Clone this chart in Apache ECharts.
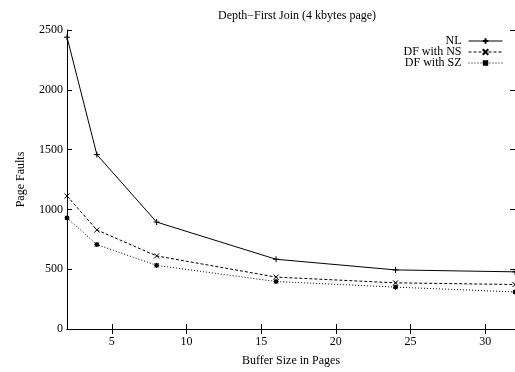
<!DOCTYPE html>
<html><head><meta charset="utf-8">
<script src="https://cdn.jsdelivr.net/npm/echarts@6/dist/echarts.min.js"></script>
<style>html,body{margin:0;padding:0;background:#fff}#c{width:515px;height:372px}</style>
</head><body><div id="c"></div>
<script>
const bufferSizes = [2, 4, 8, 16, 24, 32];
const nlValues = [2440, 1458, 894, 583, 494, 478];
const dfNsValues = [1112, 828, 611, 434, 386, 372];
const dfSzValues = [929, 706, 532, 397, 350, 310];
const seriesNames = ['NL', 'DF with NS', 'DF with SZ'];
const xTicks = [5, 10, 15, 20, 25, 30];
const yTicks = [0, 500, 1000, 1500, 2000, 2500];

const font = 'Liberation Serif';
const plus = 'path://M0,5L10,5M5,0L5,10';
const cross = 'path://M0,0L10,10M0,10L10,0';
const star = 'path://M0,5L10,5M5,0L5,10M1,1L9,9M1,9L9,1M2,2L8,2L8,8L2,8Z';

function pairs(vals){ return bufferSizes.map((x,i)=>[x, vals[i]]); }

const chart = echarts.init(document.getElementById('c'), null, {renderer:'canvas'});
const axisCommon = {
  axisLine:{lineStyle:{color:'#000', width:1}},
  splitLine:{show:false},
};
chart.setOption({
  animation:false,
  backgroundColor:'#fff',
  title:{text:'Depth\u2212First Join (4 kbytes page)', left:292, top:5, textAlign:'center',
    textStyle:{fontFamily:font, fontSize:12, fontWeight:'normal', color:'#000'}},
  legend:{orient:'vertical', right:12, top:35, padding:0, align:'right', itemGap:-1, itemWidth:34, itemHeight:7,
    lineStyle:{width:1},
    textStyle:{fontFamily:font, fontSize:12, color:'#000', padding:[0,2,0,0]}, data:seriesNames},
  grid:{left:67, right:-2, top:30, bottom:42, containLabel:false},
  xAxis:[{
    type:'value', min:2, max:32, position:'bottom',
    name:'Buffer Size in Pages', nameLocation:'middle', nameGap:26,
    nameTextStyle:{fontFamily:font, fontSize:12, color:'#000'},
    axisTick:{inside:true, length:5, customValues:xTicks, lineStyle:{color:'#000'}},
    axisLabel:{customValues:xTicks, fontFamily:font, fontSize:12, color:'#000', margin:7},
    ...axisCommon
  },{
    type:'value', min:2, max:32, position:'top',
    axisTick:{inside:true, length:5, customValues:xTicks, lineStyle:{color:'#000'}},
    axisLabel:{show:false},
    ...axisCommon
  }],
  yAxis:[{
    type:'value', min:0, max:2500, interval:500, position:'left',
    name:'Page Faults', nameLocation:'middle', nameGap:40,
    nameTextStyle:{fontFamily:font, fontSize:12, color:'#000'},
    axisTick:{inside:true, length:5, lineStyle:{color:'#000'}},
    axisLabel:{fontFamily:font, fontSize:12, color:'#000', margin:4, formatter:v=>String(v)},
    ...axisCommon
  },{
    type:'value', min:0, max:2500, interval:500, position:'right',
    axisTick:{inside:true, length:5, lineStyle:{color:'#000'}},
    axisLabel:{show:false},
    ...axisCommon
  }],
  series:[
    {name:seriesNames[0], type:'line', data:pairs(nlValues), symbol:plus, symbolSize:6,
      lineStyle:{color:'#000', width:1, type:'solid'},
      itemStyle:{color:'#000', borderColor:'#000', borderWidth:1}},
    {name:seriesNames[1], type:'line', data:pairs(dfNsValues), symbol:cross, symbolSize:5,
      lineStyle:{color:'#000', width:1, type:[3,2]},
      itemStyle:{color:'#000', borderColor:'#000', borderWidth:1}},
    {name:seriesNames[2], type:'line', data:pairs(dfSzValues), symbol:star, symbolSize:5,
      lineStyle:{color:'#000', width:1, type:[1,2]},
      itemStyle:{color:'#000', borderColor:'#000', borderWidth:1}}
  ]
});
</script></body></html>
